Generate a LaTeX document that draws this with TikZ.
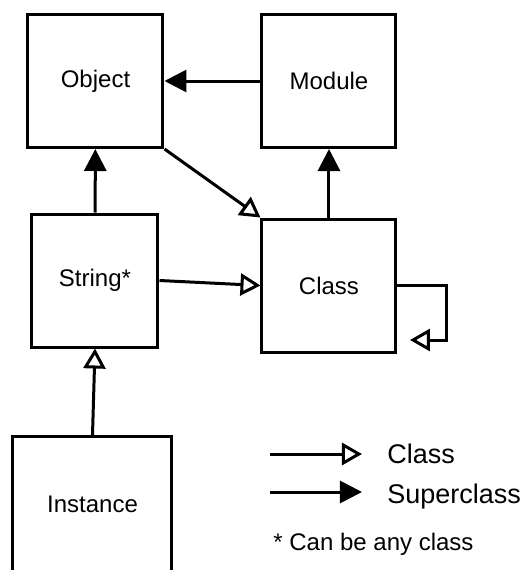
\documentclass[tikz,border=0pt]{standalone}
\usepackage{fontspec}
\setmainfont{Liberation Sans}
\usetikzlibrary{arrows.meta}

\begin{document}
\begin{tikzpicture}[x=0.5pt,y=0.5pt,
  box/.style={draw,line width=1.5pt,minimum height=66.5pt,font=\fontsize{12}{14}\selectfont},
  super/.style={line width=1.5pt,-{Triangle[length=11pt,width=11pt]}},
  isa/.style={line width=1.5pt,-{Triangle[open,length=10pt,width=11pt]}},
  legend/.style={font=\fontsize{13.5}{16}\selectfont}]
\useasboundingbox (0,0) rectangle (522,570);
% Boxes
\node[box,minimum width=67.5pt] (object) at (95.5,489) {Object};
\node[box,minimum width=67pt] (module) at (329,489) {Module};
\node[box,minimum width=63pt] (string) at (95,289.5) {String*};
\node[box,minimum width=67pt] (class) at (329,284.5) {Class};
\node[box,minimum width=79.5pt,minimum height=67.5pt] (instance) at (92.5,66) {Instance};
% Superclass links
\draw[super] (module) -- (object);
\draw[super] (string) -- (object);
\draw[super] (class) -- (module);
% Class links
\draw[isa] (object.south east) -- (class.north west);
\draw[isa] (string.east) -- (class.west);
\draw[isa] (instance.north) -- (string.south);
\coordinate (loopend) at (410,230);
\draw[isa] (class.east) -- ++(49,0) |- (loopend);
% Legend
\coordinate (isastart) at (270,116);
\coordinate (isaend) at (362,116);
\coordinate (superstart) at (270,78);
\coordinate (superend) at (362,78);
\draw[isa] (isastart) -- (isaend);
\draw[super] (superstart) -- (superend);
\node[legend,anchor=base west,inner sep=0pt] (isalabel) at (387,106) {Class};
\node[legend,anchor=base west,inner sep=0pt] (superlabel) at (387,67) {Superclass};
\node[anchor=base west,inner sep=0pt,font=\fontsize{12}{14}\selectfont] (note) at (273,19) {* Can be any class};
\end{tikzpicture}
\end{document}
